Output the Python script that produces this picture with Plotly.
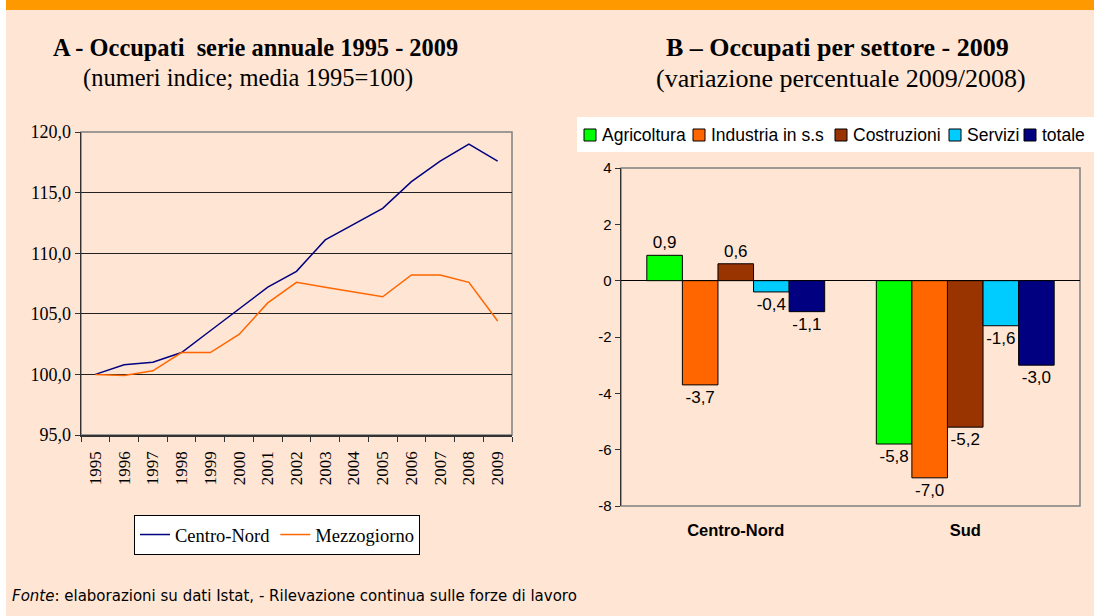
import plotly.graph_objects as go

# ---------------- data ----------------
years = ["1995", "1996", "1997", "1998", "1999", "2000", "2001", "2002",
         "2003", "2004", "2005", "2006", "2007", "2008", "2009"]
centro_nord = [100.0, 100.8, 101.0, 101.8, 103.6, 105.4, 107.2, 108.5,
               111.1, 112.4, 113.7, 115.9, 117.6, 119.0, 117.6]
mezzogiorno = [100.0, 99.9, 100.3, 101.8, 101.8, 103.3, 105.9, 107.6,
               107.2, 106.8, 106.4, 108.2, 108.2, 107.6, 104.4]

areas = ["Centro-Nord", "Sud"]
sectors = ["Agricoltura", "Industria in s.s", "Costruzioni", "Servizi", "totale"]
agricoltura = [0.9, -5.8]
industria = [-3.7, -7.0]
costruzioni = [0.6, -5.2]
servizi = [-0.4, -1.6]
totale = [-1.1, -3.0]
sector_values = [agricoltura, industria, costruzioni, servizi, totale]

ticks_a = [95, 100, 105, 110, 115, 120]
ticks_b = [4, 2, 0, -2, -4, -6, -8]

# ---------------- styles ----------------
W, H = 1094, 616
BG = "#FFE5D4"
sector_colors = ["#00FF00", "#FF6600", "#993300", "#00CCFF", "#000080"]
SERIF = "Liberation Serif, Times New Roman, serif"
SANS = "Liberation Sans, Arial, sans-serif"


def px(x):
    return x / W


def py(y):
    return 1 - y / H


fig = go.Figure()

fig.add_trace(go.Scatter(x=years, y=centro_nord, name="Centro-Nord", mode="lines",
                         line=dict(color="#000080", width=1.5), xaxis="x", yaxis="y"))
fig.add_trace(go.Scatter(x=years, y=mezzogiorno, name="Mezzogiorno", mode="lines",
                         line=dict(color="#FF6600", width=1.5), xaxis="x", yaxis="y"))

for name, vals, col in zip(sectors, sector_values, sector_colors):
    fig.add_trace(go.Bar(
        x=areas, y=vals, name=name, showlegend=False,
        marker=dict(color=col, line=dict(color="#000000", width=1)),
        text=[f"{v:.1f}".replace(".", ",") for v in vals],
        textposition="outside", constraintext="none", cliponaxis=False,
        textfont=dict(family=SANS, size=17, color="#000000"),
        xaxis="x2", yaxis="y2"))

shapes = [
    dict(type="rect", xref="paper", yref="paper", x0=0, x1=px(6), y0=0, y1=1,
         fillcolor="#FFFFFF", line=dict(width=0), layer="below"),
    dict(type="rect", xref="paper", yref="paper", x0=px(6), x1=1, y0=py(10), y1=1,
         fillcolor="#FF9900", line=dict(width=0), layer="below"),
    dict(type="rect", xref="x domain", yref="y domain", x0=0, x1=1, y0=0, y1=1,
         line=dict(color="#808080", width=1.5), layer="below"),
    dict(type="rect", xref="x2 domain", yref="y2 domain", x0=0, x1=1, y0=0, y1=1,
         line=dict(color="#808080", width=1.5), layer="below"),
    # manual legend box for chart B
    dict(type="rect", xref="paper", yref="paper", x0=px(577), x1=1.0, y0=py(152), y1=py(117),
         fillcolor="#FFFFFF", line=dict(width=0), layer="below"),
]

annotations = [
    dict(text="<b>A - Occupati  serie annuale 1995 - 2009</b>", x=px(255), y=py(47),
         font=dict(family=SERIF, size=24.4, color="#000000")),
    dict(text="(numeri indice; media 1995=100)", x=px(248), y=py(78),
         font=dict(family=SERIF, size=24.5, color="#000000")),
    dict(text="<b>B – Occupati per settore - 2009</b>", x=px(837), y=py(47),
         font=dict(family=SERIF, size=26, color="#000000")),
    dict(text="(variazione percentuale 2009/2008)", x=px(841), y=py(78),
         font=dict(family=SERIF, size=26, color="#000000")),
    dict(text="<i>Fonte</i>: elaborazioni su dati Istat, - Rilevazione continua sulle forze di lavoro",
         x=px(10), y=py(596), xanchor="left",
         font=dict(family="DejaVu Sans, sans-serif", size=15, color="#000000")),
]
for a in annotations:
    a.update(xref="paper", yref="paper", showarrow=False)
    a.setdefault("xanchor", "center")
    a["yanchor"] = "middle"

# manual legend entries for chart B
leg_sq = [584, 693, 835, 949, 1024]
for name, col, x0 in zip(sectors, sector_colors, leg_sq):
    shapes.append(dict(type="rect", xref="paper", yref="paper",
                       x0=px(x0), x1=px(x0 + 12), y0=py(141), y1=py(129),
                       fillcolor=col, line=dict(color="#000000", width=1)))
    annotations.append(dict(text=name, x=px(x0 + 16), y=py(135), xref="paper", yref="paper",
                            xanchor="left", yanchor="middle", showarrow=False,
                            font=dict(family=SANS, size=17.5, color="#000000")))

fig.update_layout(
    width=W, height=H, autosize=False,
    margin=dict(l=0, r=0, t=0, b=0, pad=0),
    paper_bgcolor=BG, plot_bgcolor="rgba(0,0,0,0)",
    separators=",.",
    barmode="group", bargap=0.225, bargroupgap=0,
    shapes=shapes, annotations=annotations,
    showlegend=True, hovermode=False,
    legend=dict(orientation="h", x=px(134), xanchor="left", y=py(515), yanchor="top",
                bgcolor="#FFFFFF", bordercolor="#000000", borderwidth=1,
                font=dict(family=SERIF, size=18.5, color="#000000"),
                itemclick=False, traceorder="normal"),
    xaxis=dict(domain=[px(81), px(512)], anchor="y", type="category", automargin=False,
               range=[-0.5, 14.5], tickangle=-90, tickson="boundaries",
               ticks="outside", ticklen=5, tickcolor="#333333",
               showline=True, linecolor="#333333", linewidth=1.5, showgrid=False,
               ticklabelstandoff=8,
               tickfont=dict(family=SERIF, size=17, color="#000000")),
    yaxis=dict(domain=[py(435), py(132)], anchor="x", range=[95, 120], automargin=False,
               tickvals=ticks_a, tickformat=".1f",
               ticks="outside", ticklen=5, tickcolor="#333333",
               showline=True, linecolor="#333333", linewidth=1.5,
               showgrid=True, gridcolor="#222222", gridwidth=1, zeroline=False,
               tickfont=dict(family=SERIF, size=18, color="#000000")),
    xaxis2=dict(domain=[px(621), px(1080)], anchor="y2", type="category", automargin=False,
                showline=False, ticks="", showgrid=False, ticklabelstandoff=12,
                tickfont=dict(family="Liberation Sans, Arial, sans-serif", size=16.5,
                              color="#000000", weight="bold")),
    yaxis2=dict(domain=[py(506), py(168)], anchor="x2", range=[-8, 4], automargin=False,
                tickvals=ticks_b, ticktext=[str(v) for v in ticks_b],
                ticks="outside", ticklen=5, tickcolor="#333333",
                showline=True, linecolor="#333333", linewidth=1.5,
                showgrid=False, zeroline=True, zerolinecolor="#000000", zerolinewidth=1,
                tickfont=dict(family=SANS, size=15, color="#000000")),
)

fig.write_html("out.html", config={"displayModeBar": False, "staticPlot": True},
               post_script="document.body.style.margin='0px';")
